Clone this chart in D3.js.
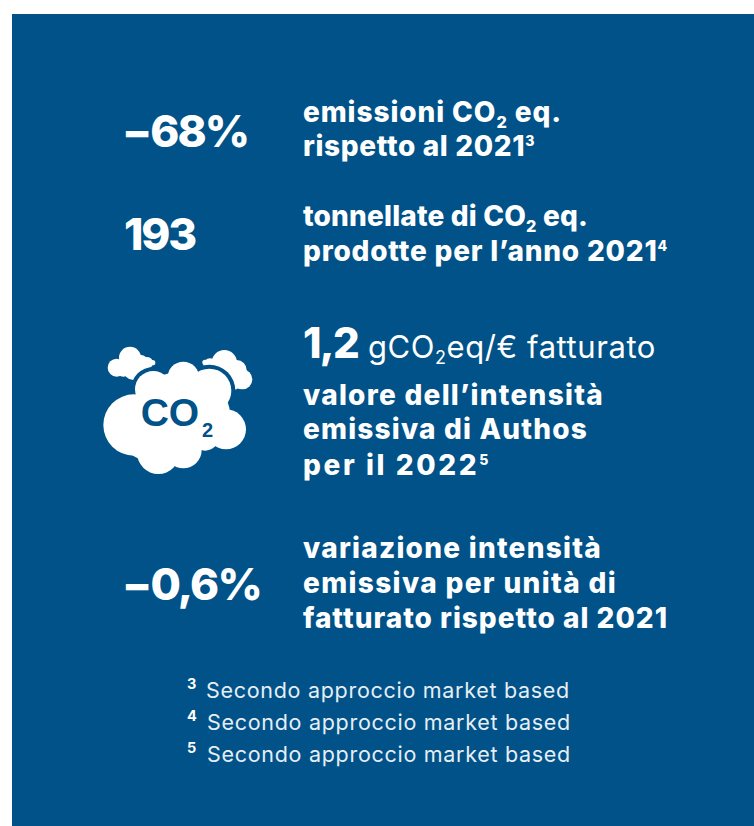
<!DOCTYPE html>
<html><head><meta charset="utf-8">
<script src="https://cdn.jsdelivr.net/npm/d3@7"></script>
<style>html,body{margin:0;padding:0;background:#fff}svg{display:block}text{font-family:Inter,"Noto Sans",sans-serif;fill:#fff}</style>
</head><body><div id="c"></div>
<script>
const metricValues = ["−68%", "193", "−0,6%"];
const descriptionLines = [
  ["emissioni CO|2| eq.", "rispetto al 2021^3"],
  ["tonnellate di CO|2| eq.", "prodotte per l’anno 2021^4"],
  ["valore dell’intensità", "emissiva di Authos", "per il 2022^5"],
  ["variazione intensità", "emissiva per unità di", "fatturato rispetto al 2021"]
];
const intensityValue = "1,2";
const intensityUnit = "gCO|2|eq/€ fatturato";
const footnoteMarks = ["3", "4", "5"];
const footnoteText = ["Secondo approccio market based", "Secondo approccio market based", "Secondo approccio market based"];

const W = 754, H = 826, BG = "#005288";
const svg = d3.select("#c").append("svg").attr("width", W).attr("height", H);
svg.append("rect").attr("x", 12).attr("y", 14).attr("width", W - 12).attr("height", H - 14).attr("fill", BG);

// line: string with |sub| and ^sup markers, drawn into tspans, then fitted to target width
function drawLine(x, y, str, size, weight, width) {
  const t = svg.append("text").attr("x", x).attr("y", y).attr("font-size", size).attr("font-weight", weight);
  const parts = str.split(/(\|[^|]+\||\^.)/).filter(s => s);
  let back = 0;
  parts.forEach(p => {
    if (p[0] === "|") {
      t.append("tspan").attr("dy", size * 0.2).attr("font-size", size * 0.58).text(p.slice(1, -1));
      back = -size * 0.2;
    } else if (p[0] === "^") {
      t.append("tspan").attr("dy", -size * 0.34).attr("font-size", size * 0.5).text(p.slice(1));
      back = size * 0.34;
    } else {
      t.append("tspan").attr("dy", back).text(p);
      back = 0;
    }
  });
  if (width) {
    const n = t.text().length;
    const cur = t.node().getComputedTextLength();
    t.style("letter-spacing", ((width - cur) / n) + "px");
  }
  return t;
}

const bigX = [122, 124, 122], textX = 303;
const bigY = [147, 250, 600], bigW = [126, 71, 139];
metricValues.forEach((v, i) => drawLine(bigX[i], bigY[i], v, 44, 800, bigW[i]));

const descY = [[122, 156], [226, 261], [405, 439, 475], [558, 593, 628]];
const descW = [[259, 232], [285, 365], [301, 285, 188], [299, 314, 365]];
descriptionLines.forEach((ls, i) => ls.forEach((l, j) => drawLine(textX, descY[i][j], l, 28, 800, descW[i][j])));

drawLine(textX, 358, intensityValue, 42, 800, 55);
drawLine(368, 358, intensityUnit, 31, 400, 288);

const fnY = [698, 730, 762], fnX = [206, 207, 207];
footnoteText.forEach((s, i) => {
  drawLine(fnX[i], fnY[i], s, 21.5, 400, 364).style("fill", "#e6eef5");
  drawLine(187, fnY[i] - 9, footnoteMarks[i], 14.5, 700);
});

// cloud icon: lobes as [zoomX, zoomY, r]
const x = d3.scaleLinear().domain([0, 540]).range([90, 270]);
const y = d3.scaleLinear().domain([0, 510]).range([320, 490]);
const r = d3.scaleLinear().domain([0, 540]).range([0, 180]);
const smallLobes = [[80,143,27],[120,113,33],[150,132,28],[100,150,20],[130,150,30],[172,128,17],[188,128,8],[403,128,38],[440,150,30],[457,178,30],[390,160,30],[360,135,20],[345,127,8],[430,185,25]];
const mainLobes = [[132,315,92],[190,208,55],[280,172,47],[358,212,66],[408,328,60],[205,398,64],[345,350,42],[280,390,55],[270,280,125],[170,350,70],[340,280,80]];
const cloud = svg.append("g");
const lobes = (g, data, fill, extra) => g.selectAll(null).data(data).join("circle")
  .attr("cx", d => x(d[0])).attr("cy", d => y(d[1])).attr("r", d => r(d[2]) + extra).attr("fill", fill);
lobes(cloud.append("g"), smallLobes, "#fff", 0);
lobes(cloud.append("g"), mainLobes, BG, 4);
lobes(cloud.append("g"), mainLobes, "#fff", 0);
const iconFont = '"Liberation Sans",Arial,sans-serif';
svg.append("text").attr("x", x(152)).attr("y", y(318)).attr("font-size", 39).attr("font-weight", 700).style("fill", BG).style("font-family", iconFont).text("CO");
svg.append("text").attr("x", x(336)).attr("y", y(352)).attr("font-size", 20).attr("font-weight", 700).style("fill", BG).style("font-family", iconFont).text("2");
</script></body></html>
